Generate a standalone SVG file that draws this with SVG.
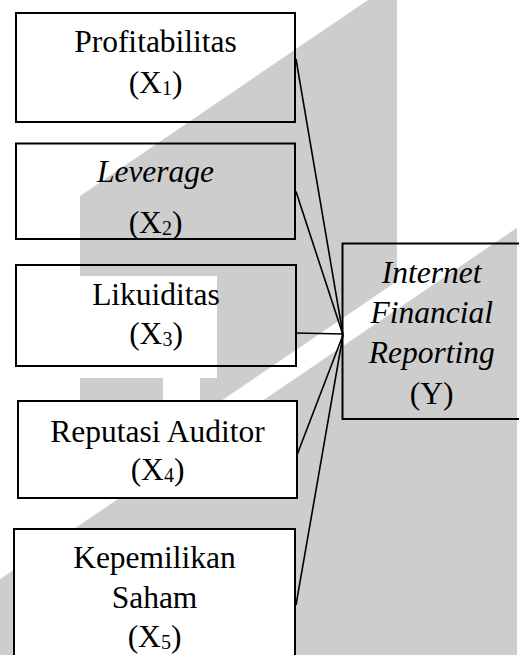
<svg xmlns="http://www.w3.org/2000/svg" width="519" height="655" viewBox="0 0 519 655">
<style>
.wm{fill:#cdcdcd;stroke:none}
.cut{fill:#ffffff;stroke:none}
.box{fill:none;stroke:#000;stroke-width:2}
.boxw{fill:#fff;stroke:#000;stroke-width:2}
.t{font-family:"Liberation Serif","Times New Roman",serif;font-size:31.5px;fill:#000;text-anchor:middle}
.it{font-style:italic}
.sub{font-size:20px}
.con line{stroke:#000;stroke-width:1.6}
</style>
<rect x="0" y="0" width="519" height="655" fill="#fff"/>
<g id="watermark">
<polygon class="wm" points="368,0 397,0 397,281.3 80,496.8 80,196"/>
<polygon class="wm" points="517,227.7 517,655 0,655 0,579.2"/>
<rect class="cut" x="80" y="276" width="137" height="102"/>
<polygon class="cut" points="163,378 200,378 200,415.2 163,440.4"/>
</g>
<g id="connectors" class="con">
<line x1="296" y1="59" x2="343" y2="335"/>
<line x1="296" y1="191.5" x2="343" y2="335"/>
<line x1="296" y1="333" x2="343" y2="334"/>
<line x1="297" y1="455" x2="343" y2="335"/>
<line x1="296" y1="605" x2="343" y2="335"/>
</g>
<g id="x1">
<rect class="box" x="16" y="13" width="279" height="109"/>
<text class="t" x="155.5" y="51.5">Profitabilitas</text>
<text class="t" x="155.5" y="92.5">(X<tspan class="sub" dy="2">1</tspan><tspan dy="-2">)</tspan></text>
</g>
<g id="x2">
<rect class="box" x="16" y="143.5" width="279" height="95.5"/>
<text class="t it" x="155.5" y="182">Leverage</text>
<text class="t" x="155.5" y="233">(X<tspan class="sub" dy="2">2</tspan><tspan dy="-2">)</tspan></text>
</g>
<g id="x3">
<rect class="box" x="16" y="265" width="280" height="101"/>
<text class="t" x="156" y="305">Likuiditas</text>
<text class="t" x="156" y="344">(X<tspan class="sub" dy="2">3</tspan><tspan dy="-2">)</tspan></text>
</g>
<g id="x4">
<rect class="boxw" x="18" y="401" width="279" height="97"/>
<text class="t" x="157.5" y="441.5">Reputasi Auditor</text>
<text class="t" x="157.5" y="480">(X<tspan class="sub" dy="2">4</tspan><tspan dy="-2">)</tspan></text>
</g>
<g id="x5">
<rect class="boxw" x="14" y="529" width="281" height="140"/>
<text class="t" x="154.5" y="568">Kepemilikan</text>
<text class="t" x="154.5" y="607.5">Saham</text>
<text class="t" x="154.5" y="646.5">(X<tspan class="sub" dy="2">5</tspan><tspan dy="-2">)</tspan></text>
</g>
<g id="y">
<rect class="box" x="342.5" y="243.5" width="200" height="175.5"/>
<text class="t it" x="431.7" y="283">Internet</text>
<text class="t it" x="431.7" y="323">Financial</text>
<text class="t it" x="431.7" y="363">Reporting</text>
<text class="t" x="431.7" y="404">(Y)</text>
</g>
</svg>
